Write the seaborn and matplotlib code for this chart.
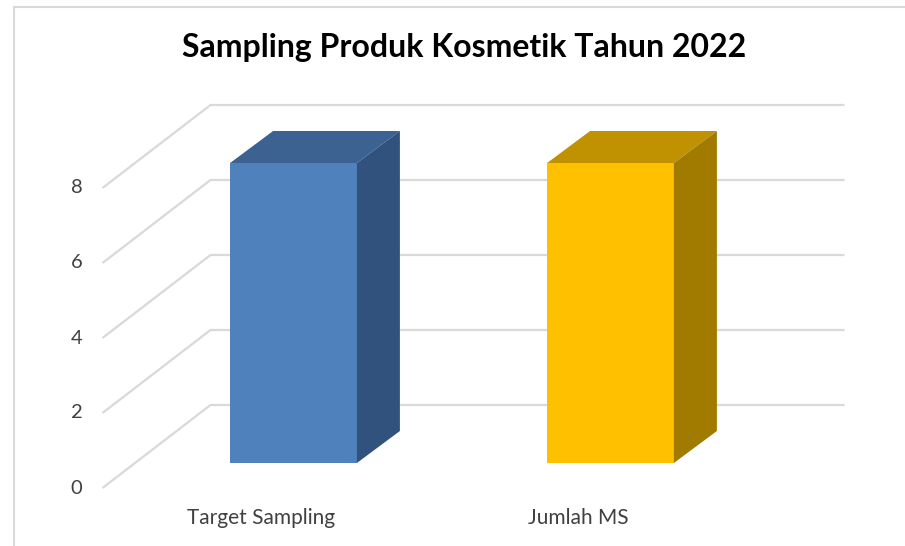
import matplotlib
matplotlib.use("Agg")
import matplotlib.pyplot as plt
import seaborn as sns
from matplotlib.patches import Polygon
from matplotlib.lines import Line2D

# ---- data ----
categories = ["Target Sampling", "Jumlah MS"]
values = [8, 8]
y_ticks = [0, 2, 4, 6, 8]
title = "Sampling Produk Kosmetik Tahun 2022"

front_colors = ["#4F81BD", "#FFC000"]
top_colors = ["#3C6291", "#C09100"]
side_colors = ["#31527C", "#A07B00"]

sns.set_theme(style="white")
plt.rcParams["font.family"] = ["Lato", "DejaVu Sans"]

W, H = 905, 546
fig = plt.figure(figsize=(W / 100, H / 100), dpi=100)
fig.patch.set_facecolor("white")

# axes = front plane of the bars
ax_l, ax_r, ax_b, ax_t = 135, 769, 83, 383  # pixels
ax = fig.add_axes([ax_l / W, ax_b / H, (ax_r - ax_l) / W, (ax_t - ax_b) / H])

sns.barplot(x=categories, y=values, hue=categories, palette=front_colors,
            width=0.4, saturation=1, legend=False, ax=ax, zorder=3)
ax.set_xlim(-0.5, 1.5)
ax.set_ylim(0, 8)
ax.axis("off")

px_x = (ax_r - ax_l) / 2.0   # pixels per x unit
px_y = (ax_t - ax_b) / 8.0   # pixels per y unit

def off(dx_px, dy_px):
    return dx_px / px_x, dy_px / px_y

# depth offsets (pixels) relative to bar front plane
fdx, fdy = off(-32.5, -25)    # front edge of floor / side wall
bdx, bdy = off(75.5, 58)      # back wall
cdx, cdy = off(43, 32)        # bar depth

grid_c = "#D9D9D9"
x0, x1 = ax.get_xlim()
for v in y_ticks:
    ax.plot([x0 + fdx, x0 + bdx, x1 + bdx], [v + fdy, v + bdy, v + bdy],
            color=grid_c, lw=1.6, zorder=1, clip_on=False,
            solid_capstyle="butt")
    ax.text(x0 + fdx + off(-20, 0)[0], v + fdy, str(v), ha="right",
            va="center", fontsize=14.5, color="#404040", clip_on=False)

# 3D faces for each bar, built from the seaborn bar patches
for i, p in enumerate(ax.patches):
    x, w, h = p.get_x(), p.get_width(), p.get_height()
    p.set_edgecolor("none")
    top = Polygon([(x, h), (x + cdx, h + cdy), (x + w + cdx, h + cdy), (x + w, h)],
                  closed=True, facecolor=top_colors[i], edgecolor="none",
                  zorder=3, clip_on=False)
    side = Polygon([(x + w, 0), (x + w + cdx, cdy), (x + w + cdx, h + cdy), (x + w, h)],
                   closed=True, facecolor=side_colors[i], edgecolor="none",
                   zorder=3, clip_on=False)
    ax.add_patch(top)
    ax.add_patch(side)

# category labels on front floor edge
lab_y = -(518 - 463) / px_y
for i, c in enumerate(categories):
    ax.text(i + fdx, lab_y, c, ha="center", va="center", fontsize=15,
            color="#404040", clip_on=False)

fig.text(464 / W, 1 - 48 / H, title, ha="center", va="center",
         fontsize=23, fontweight="bold", color="black")

# chart frame (cropped)
fig.add_artist(Line2D([13.5 / W, 13.5 / W], [0, 1 - 7 / H], color="#D9D9D9",
                      lw=1.5, transform=fig.transFigure))
fig.add_artist(Line2D([13.5 / W, 1], [1 - 7 / H, 1 - 7 / H], color="#D9D9D9",
                      lw=1.5, transform=fig.transFigure))

fig.savefig("out.png", dpi=100)
